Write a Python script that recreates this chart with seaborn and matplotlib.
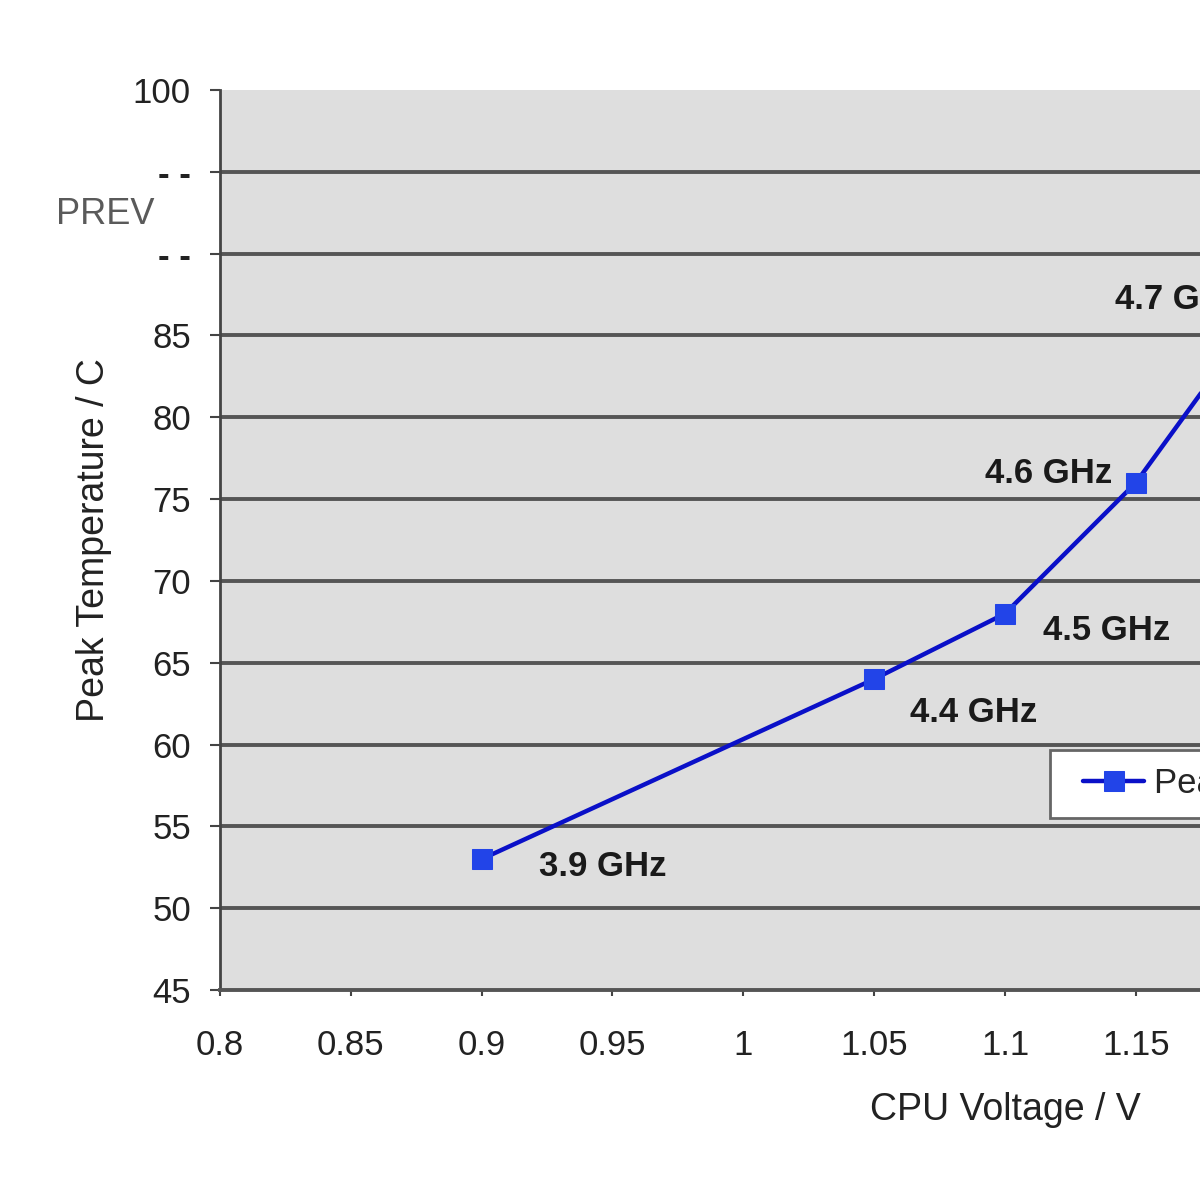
import pandas as pd
import matplotlib
matplotlib.use("Agg")
import matplotlib.pyplot as plt
from matplotlib.lines import Line2D
from matplotlib.legend_handler import HandlerLine2D
import seaborn as sns

# -----------------------------
# Data
# -----------------------------
voltage = [0.9, 1.05, 1.1, 1.15, 1.2]
peak_temp = [53, 64, 68, 76, 87]
freq_labels = ["3.9 GHz", "4.4 GHz", "4.5 GHz", "4.6 GHz", "4.7 GHz"]

x_ticks = [0.8, 0.85, 0.9, 0.95, 1.0, 1.05, 1.1, 1.15]
x_tick_labels = ["0.8", "0.85", "0.9", "0.95", "1", "1.05", "1.1", "1.15"]
y_ticks = [45, 50, 55, 60, 65, 70, 75, 80, 85, 90, 95, 100]
y_tick_labels = ["45", "50", "55", "60", "65", "70", "75", "80", "85", "- -", "- -", "100"]

df = pd.DataFrame({"CPU Voltage": voltage, "Peak Temperature": peak_temp})

sns.set_style("white")
plt.rcParams['font.family'] = ['Liberation Sans', 'DejaVu Sans']

fig = plt.figure(figsize=(12, 12), dpi=100)
# axes runs past the right edge of the figure (cropped chart)
ax = fig.add_axes([220 / 1200, 210 / 1200, 1570 / 1200, 900 / 1200])
ax.set_facecolor("#dedede")

sns.lineplot(
    data=df, x="CPU Voltage", y="Peak Temperature",
    color="#0a10c8", linewidth=3.2, marker="s", markersize=15,
    markerfacecolor="#2244e8", markeredgecolor="#2244e8",
    label="Peak Temperature", ax=ax, zorder=5
)

# frequency labels
offsets = [(57, -7, "left"), (36, -33, "left"), (38, -17, "left"),
           (-24, 9, "right"), (-24, 3, "right")]
for xv, yv, lab, (dx, dy, ha) in zip(voltage, peak_temp, freq_labels, offsets):
    ax.annotate(lab, (xv, yv), xytext=(dx, dy), textcoords="offset pixels",
                ha=ha, va="center", fontsize=25, fontweight="bold",
                color="#1a1a1a", zorder=6)

ax.set_xlim(0.8, 1.4)
ax.set_ylim(45, 100)
ax.set_xticks(x_ticks)
ax.set_xticklabels(x_tick_labels)
ax.set_yticks(y_ticks)
ax.set_yticklabels(y_tick_labels)
for t in ax.get_yticklabels():
    if t.get_text() == "- -":
        t.set_fontweight("bold")

ax.yaxis.grid(True, color="#555555", linewidth=2.8)
ax.set_axisbelow(True)
ax.get_ygridlines()[-1].set_visible(False)
ax.get_ygridlines()[0].set_visible(False)

for side in ["top", "right"]:
    ax.spines[side].set_visible(False)
ax.spines["left"].set_color("#444444")
ax.spines["left"].set_linewidth(2)
ax.spines["bottom"].set_color("#555555")
ax.spines["bottom"].set_linewidth(2.8)

ax.tick_params(axis="y", direction="out", length=7, width=1.5, color="#444444",
               labelsize=25, labelcolor="#222222", pad=14, left=True)
ax.tick_params(axis="x", direction="out", length=4, width=1.5, color="#444444",
               labelsize=25, labelcolor="#222222", pad=24, bottom=True)

ax.set_xlabel("CPU Voltage / V", fontsize=27, color="#222222", labelpad=22)
ax.set_ylabel("Peak Temperature / C", fontsize=27, color="#222222", labelpad=15)

leg = ax.legend(loc="upper left", bbox_to_anchor=(1050 / 1200, 1 - 750 / 1200),
                bbox_transform=fig.transFigure, fontsize=25, frameon=True,
                fancybox=False, borderpad=0.5, borderaxespad=0,
                handlelength=2.2, handletextpad=0.3, framealpha=1,
                handler_map={Line2D: HandlerLine2D(xpad=0.46)})
leg.get_frame().set_edgecolor("#666666")
leg.get_frame().set_facecolor("white")
leg.get_frame().set_linewidth(2)

# navigation overlay text
fig.text(105 / 1200, 1 - 215 / 1200, "PREV", fontsize=26, color="#5a5a5a",
         ha="center", va="center")

plt.savefig("out.png", dpi=100)
